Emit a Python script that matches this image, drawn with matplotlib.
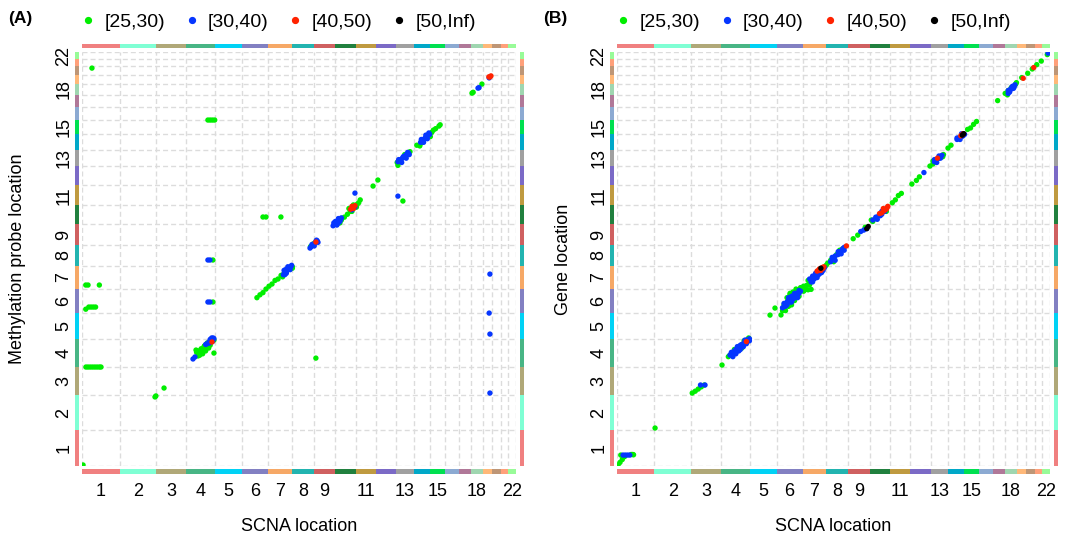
import matplotlib
matplotlib.use("Agg")
import matplotlib.pyplot as plt
from matplotlib.lines import Line2D
from matplotlib.patches import Rectangle
import matplotlib.transforms as mtransforms
import numpy as np

plt.rcParams['font.family'] = ['Liberation Sans', 'DejaVu Sans']

# ---------------- data ----------------
chrom_names = [str(i) for i in range(1, 23)]
chrom_len = [249, 243, 198, 191, 181, 171, 159, 146, 141, 136, 135,
             134, 115, 107, 102, 90, 81, 78, 59, 63, 48, 51]
chrom_colors = ['#F08080', '#7FFFD4', '#B0A878', '#48B585', '#00D2F5', '#8280C2',
                '#F6A866', '#22B4B0', '#CF6060', '#21803E', '#BF9A40', '#7B6AC6',
                '#A0A0A0', '#00A8C8', '#00E050', '#8CAAD2', '#B07898', '#9FD6B0',
                '#FFB878', '#BE9676', '#FFA07A', '#98FB98']
tick_chroms = ['1', '2', '3', '4', '5', '6', '7', '8', '9', '11', '13', '15', '18', '22']

categories = ['[25,30)', '[30,40)', '[40,50)', '[50,Inf)']
cat_colors = ['#00EE00', '#0636FF', '#FF2200', '#000000']

# Panel A (SCNA vs methylation probe), genome positions in Mb
A_green_x = [66, 7, 25, 40, 115, 25, 45, 60, 75, 90, 26, 40, 55, 70, 85, 100, 115, 126,
             484, 490, 544,
             770, 780, 790, 795, 800, 805, 810, 815, 820, 825, 830, 835, 840, 845, 850,
             855, 860, 865, 870, 875, 875, 756, 785, 812,
             760, 770, 780, 790, 800, 810, 820, 830, 840, 850, 800, 815, 825, 835,
             868, 868, 835, 850, 865, 880,
             1160, 1180, 1200, 1220, 1240, 1260, 1280, 1300, 1320, 1340, 1360, 1380, 1395,
             1330, 1395,
             1200, 1220, 1319,
             1515, 1535, 1551,
             1690, 1710, 1720, 1740, 1760, 1780, 1800, 1815, 1825, 1835, 1845,
             1770, 1790, 1800, 1820,
             1930, 1962, 2128,
             2090, 2110, 2150, 2175, 2095, 2140,
             2220, 2250, 2300, 2330, 2345, 2367, 2375, 2240, 2310, 2320,
             2586, 2594, 2652]
A_green_y = [2766, 7, 1258, 1258, 1258, 1090, 1105, 1105, 1105, 1105, 688, 688, 688, 688, 688, 688, 688, 688,
             480, 487, 542,
             765, 785, 790, 805, 800, 815, 805, 820, 830, 820, 840, 835, 850, 845, 860,
             870, 865, 880, 880, 875, 785, 806, 800, 835,
             790, 800, 770, 815, 780, 830, 800, 855, 820, 840, 790, 810, 845, 850,
             1140, 1432, 2405, 2405, 2405, 2405,
             1170, 1190, 1205, 1230, 1250, 1265, 1290, 1300, 1325, 1340, 1360, 1370, 1385,
             1315, 1375,
             1731, 1731, 1731,
             1525, 1545, 750,
             1680, 1690, 1710, 1730, 1750, 1770, 1790, 1800, 1820, 1830, 1850,
             1790, 1770, 1815, 1800,
             1946, 1988, 1842,
             2110, 2120, 2160, 2185, 2090, 2165,
             2230, 2245, 2300, 2335, 2345, 2363, 2372, 2225, 2290, 2320,
             2592, 2598, 2655]
A_blue_x = [736, 749, 820, 830, 840, 850, 860, 870, 845, 865, 855, 870, 875, 860, 850,
            835, 849, 835, 849,
            1335, 1345, 1355, 1365, 1375, 1385, 1350, 1370,
            1340, 1355, 1365, 1380, 1390, 1345,
            1512, 1520, 1530, 1540, 1550, 1560, 1525, 1540, 1555, 1565,
            1665, 1675, 1685, 1695, 1705, 1715, 1700, 1680, 1670, 1690, 1700, 1710, 1720,
            1790, 1810, 1810, 2095,
            2095, 2105, 2115, 2125, 2135, 2145, 2155, 2165,
            2100, 2120, 2130, 2150, 2160, 2170,
            2245, 2255, 2265, 2275, 2285, 2295, 2305,
            2250, 2265, 2280, 2290, 2300,
            2626, 2633, 2700,
            2705, 2700, 2705, 2705]
A_blue_y = [744, 758, 845, 850, 860, 870, 875, 880, 855, 865, 880, 890, 885, 890, 880,
            1432, 1432, 1140, 1140,
            1330, 1345, 1355, 1365, 1375, 1385, 1365, 1380,
            1360, 1340, 1385, 1365, 1395, 1330,
            1515, 1525, 1535, 1545, 1560, 1565, 1540, 1530, 1570, 1555,
            1670, 1680, 1690, 1695, 1705, 1715, 1690, 1700, 1690, 1675, 1720, 1700, 1725,
            1780, 1800, 1897, 1876,
            2115, 2125, 2130, 2140, 2150, 2160, 2170, 2175,
            2130, 2110, 2150, 2140, 2180, 2165,
            2250, 2260, 2270, 2280, 2290, 2300, 2305,
            2270, 2250, 2300, 2275, 2315,
            2627, 2630, 2698,
            1334, 1063, 917, 507]
A_red_x = [862, 1551, 1780, 1795, 1810, 1800, 1790, 2705, 2712, 2698]
A_red_y = [862, 1557, 1785, 1795, 1810, 1790, 1805, 2704, 2712, 2705]
A_black_x = []
A_black_y = []

# Panel B (SCNA vs gene), genome positions in Mb
B_green_x = [7, 20, 35, 50, 25, 35, 95, 105, 110, 253,
             500, 520, 540, 560, 580, 698,
             750, 770, 790, 800, 820, 860, 870, 740, 765, 780, 830, 845, 875,
             1017, 1050,
             1100, 1110, 1150, 1200, 1230, 1250, 1270, 1290,
             1090, 1120, 1140, 1160, 1180, 1130, 1150, 1170, 1190, 1210, 1220, 1240,
             1240, 1260, 1270, 1280, 1390,
             1400, 1420, 1460, 1480, 1500, 1440, 1480, 1570, 1600,
             1650, 1700, 1760, 1690, 1790,
             1830, 1850, 1870, 1890,
             1960, 1990, 2010,
             2080, 2100, 2170, 2100, 2165, 2200, 2220,
             2330, 2350, 2370, 2390,
             2530, 2580, 2600, 2620, 2650, 2595, 2655,
             2690, 2730, 2760, 2790, 2820, 2860]
B_green_y = [7, 25, 45, 65, 76, 72, 80, 80, 78, 264,
             507, 520, 535, 550, 563, 702,
             770, 790, 800, 815, 830, 870, 880, 760, 780, 810, 820, 870, 890,
             1049, 1098,
             1080, 1120, 1200, 1210, 1225, 1225, 1225, 1228,
             1050, 1080, 1110, 1120, 1150, 1170, 1190, 1210, 1230, 1180, 1240, 1215,
             1250, 1255, 1290, 1260, 1395,
             1410, 1430, 1470, 1485, 1510, 1420, 1500, 1580, 1605,
             1660, 1700, 1760, 1710, 1770,
             1830, 1850, 1880, 1895,
             1960, 1985, 2010,
             2085, 2100, 2165, 2120, 2150, 2210, 2230,
             2340, 2350, 2375, 2395,
             2540, 2590, 2610, 2630, 2655, 2580, 2665,
             2700, 2730, 2760, 2790, 2815, 2860]
B_blue_x = [40, 55, 70, 85, 555, 585,
            751, 770, 780, 800, 810, 830, 840, 850, 860, 870, 880, 790, 820, 800,
            760, 770, 790, 810, 820, 840, 860, 850, 880,
            1100, 1120, 1130, 1140, 1150, 1160, 1170, 1180, 1190, 1200, 1210, 1220,
            1110, 1130, 1150, 1170, 1190, 1210, 1160, 1180, 1140, 1200,
            1290, 1300, 1310, 1320, 1330, 1340, 1350, 1360,
            1280, 1300, 1310, 1320, 1330, 1340, 1350, 1360, 1370, 1380, 1300,
            1420, 1440, 1450, 1470, 1490, 1510, 1430, 1450, 1470, 1490, 1500, 1510,
            1620, 1640, 1660,
            1700, 1720, 1740, 1760, 1720, 1730, 1750, 1760, 1780, 2040,
            2110, 2120, 2130, 2140, 2150, 2110, 2125, 2140, 2150, 2160,
            2260, 2270, 2290, 2300, 2260, 2280, 2290, 2310,
            2600, 2610, 2620, 2630, 2640, 2600, 2610, 2625, 2635, 2645, 2865]
B_blue_y = [76, 76, 76, 76, 563, 563,
            771, 780, 800, 800, 820, 845, 850, 860, 875, 870, 885, 810, 810, 830,
            790, 760, 780, 800, 840, 830, 850, 875, 870,
            1100, 1110, 1140, 1150, 1160, 1140, 1180, 1170, 1200, 1190, 1200, 1215,
            1130, 1120, 1140, 1160, 1180, 1220, 1180, 1200, 1170, 1170,
            1280, 1300, 1320, 1310, 1330, 1340, 1355, 1345,
            1300, 1280, 1300, 1340, 1310, 1330, 1340, 1370, 1360, 1380, 1320,
            1420, 1440, 1460, 1470, 1495, 1520, 1450, 1430, 1490, 1475, 1510, 1500,
            1630, 1640, 1650,
            1710, 1720, 1740, 1770, 1730, 1715, 1740, 1750, 1770, 2040,
            2115, 2120, 2135, 2140, 2150, 2130, 2110, 2155, 2140, 2160,
            2270, 2280, 2290, 2295, 2280, 2270, 2310, 2305,
            2590, 2615, 2620, 2640, 2635, 2610, 2600, 2635, 2625, 2650, 2870]
B_red_x = [860, 1340, 1350, 1360, 1370, 1330, 1345, 1365, 1375, 1355, 1525,
           1745, 1760, 1775, 1790, 1770, 1795, 1800,
           2130, 2290, 2300, 2300, 2285, 2700, 2770]
B_red_y = [865, 1360, 1365, 1370, 1375, 1355, 1370, 1380, 1385, 1360, 1530,
           1755, 1760, 1775, 1785, 1790, 1795, 1805,
           2140, 2300, 2305, 2310, 2295, 2695, 2770]
B_black_x = [1355, 1660, 1670, 2295, 2305]
B_black_y = [1375, 1650, 1665, 2300, 2310]

# ---------------- figure ----------------
W, H = 1065, 540
fig = plt.figure(figsize=(W / 100, H / 100), dpi=100)

starts = np.concatenate([[0], np.cumsum(chrom_len)[:-1]])
ends = np.cumsum(chrom_len)
total = ends[-1]
mids = starts + np.array(chrom_len) / 2.0


def draw_panel(left_px, right_px, top_px, bottom_px, series, ylabel, ylab_x,
               tag, tag_x, leg_cx):
    ax = fig.add_axes([left_px / W, 1 - bottom_px / H,
                       (right_px - left_px) / W, (bottom_px - top_px) / H])
    ax.set_xlim(0, total)
    ax.set_ylim(0, total)
    for s in ax.spines.values():
        s.set_visible(False)
    # dashed grid at chromosome boundaries
    bounds = np.concatenate([[0], ends])
    for b in bounds:
        ax.axvline(b, color='#DCDCDC', lw=1.0, ls=(0, (3.6, 2.2)), zorder=0)
        ax.axhline(b, color='#DCDCDC', lw=1.0, ls=(0, (3.6, 2.2)), zorder=0)
    # points
    for (xs, ys), col in zip(series, cat_colors):
        if len(xs):
            ax.scatter(xs, ys, s=15, color=col, edgecolors='none', zorder=3)
    # chromosome colour bars
    axw = right_px - left_px
    axh = bottom_px - top_px
    tx = mtransforms.blended_transform_factory(ax.transData, ax.transAxes)
    ty = mtransforms.blended_transform_factory(ax.transAxes, ax.transData)
    for st, ln, col in zip(starts, chrom_len, chrom_colors):
        ax.add_patch(Rectangle((st, -7.5 / axh), ln, 4.5 / axh, transform=tx,
                               color=col, lw=0, clip_on=False))
        ax.add_patch(Rectangle((st, 1 + 3.5 / axh), ln, 4.5 / axh, transform=tx,
                               color=col, lw=0, clip_on=False))
        ax.add_patch(Rectangle((-7.5 / axw, st), 4.5 / axw, ln, transform=ty,
                               color=col, lw=0, clip_on=False))
        ax.add_patch(Rectangle((1 + 3.5 / axw, st), 4.5 / axw, ln, transform=ty,
                               color=col, lw=0, clip_on=False))
    idx = [chrom_names.index(c) for c in tick_chroms]
    ax.set_xticks(mids[idx])
    ax.set_xticklabels(tick_chroms, fontsize=13)
    ax.set_yticks(mids[idx])
    ax.set_yticklabels(tick_chroms, fontsize=13, rotation=90, va='center')
    ax.tick_params(axis='x', length=0, pad=12)
    ax.tick_params(axis='y', length=0, pad=7)
    ax.set_xlabel('SCNA location', fontsize=13, labelpad=13)
    ax.set_ylabel(ylabel, fontsize=13)
    ax.yaxis.set_label_coords((ylab_x - left_px) / axw, 0.5)
    # legend
    handles = [Line2D([], [], marker='o', ls='', color=c, markersize=4.2) for c in cat_colors]
    fig.legend(handles, categories, loc='center', ncol=4,
               bbox_to_anchor=(leg_cx / W, 1 - 22 / H), frameon=False,
               fontsize=14, handlelength=0.6, handletextpad=0.55, columnspacing=1.05,
               borderpad=0)
    fig.text(tag_x / W, 1 - 18 / H, tag, fontsize=12.5, fontweight='bold',
             ha='left', va='center')
    return ax


draw_panel(82, 516, 52, 466,
           [(A_green_x, A_green_y), (A_blue_x, A_blue_y),
            (A_red_x, A_red_y), (A_black_x, A_black_y)],
           'Methylation probe location', 26, '(A)', 8, 279)
draw_panel(617, 1050, 52, 466,
           [(B_green_x, B_green_y), (B_blue_x, B_blue_y),
            (B_red_x, B_red_y), (B_black_x, B_black_y)],
           'Gene location', 572, '(B)', 543, 814)

fig.savefig('out.png', dpi=100)
